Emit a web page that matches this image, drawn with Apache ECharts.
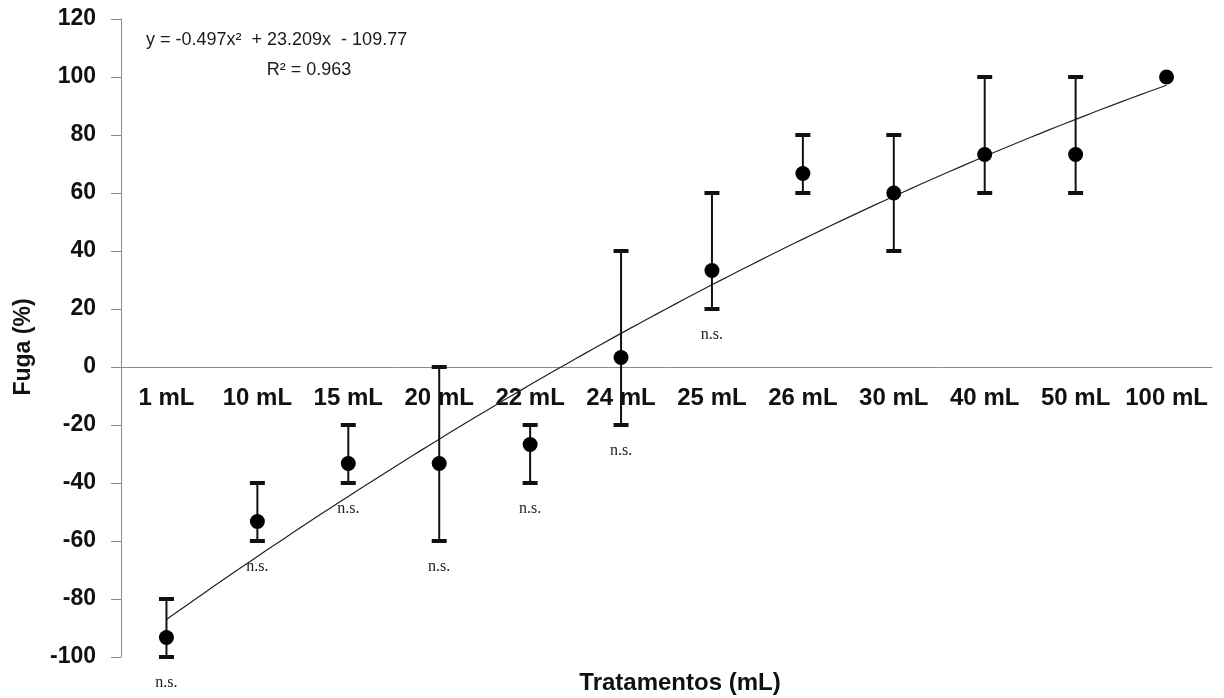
<!DOCTYPE html>
<html>
<head>
<meta charset="utf-8">
<title>Fuga (%) por tratamento</title>
<script src="https://cdn.jsdelivr.net/npm/echarts@6/dist/echarts.min.js"></script>
<style>
  html, body { margin: 0; padding: 0; background: #ffffff; }
  #chart { width: 1224px; height: 698px; }
</style>
</head>
<body>
<div id="chart"></div>
<script>
// Treatments (mL) and escape response (%)
const categories = ['1 mL', '10 mL', '15 mL', '20 mL', '22 mL', '24 mL', '25 mL', '26 mL', '30 mL', '40 mL', '50 mL', '100 mL'];
const means = [-93.3, -53.3, -33.3, -33.3, -26.7, 3.3, 33.3, 66.7, 60, 73.3, 73.3, 100];
const lowerBound = [-100, -60, -40, -60, -40, -20, 20, 60, 40, 60, 60, 100];
const upperBound = [-80, -40, -20, 0, -20, 40, 60, 80, 80, 100, 100, 100];
const notSignificant = [true, true, true, true, true, true, true, false, false, false, false, false];

// Quadratic trend: y = a*x^2 + b*x + c, x = treatment position (1..12)
const trendCoef = { a: -0.497, b: 23.209, c: -109.77 };
const r2 = 0.963;

const yMin = -100, yMax = 120, yStep = 20;

// treatments sit at positions 1..12 on a value x axis
const positions = categories.map((c, i) => i + 1);

const trendPoints = [];
for (let k = 0; k <= 110; k++) {
  const x = 1 + k * 0.1;
  trendPoints.push([x, trendCoef.a * x * x + trendCoef.b * x + trendCoef.c]);
}

const errorData = positions.map((p, i) => [p, lowerBound[i], upperBound[i], notSignificant[i] ? 1 : 0]);
const pointData = positions.map((p, i) => [p, means[i]]);

const chart = echarts.init(document.getElementById('chart'), null, { renderer: 'canvas' });

const axisGrey = '#8a8a8a';
const sans = '"Liberation Sans", Arial, sans-serif';

// plot box
const gridTop = 19, gridBottom = 41;
const plotHeight = 698 - gridTop - gridBottom;
// lift the category axis (line + labels) from the bottom edge up to y = 0
const zeroLift = plotHeight * (0 - yMin) / (yMax - yMin);

chart.setOption({
  animation: false,
  backgroundColor: '#ffffff',
  grid: { left: 121, right: 12, top: gridTop, bottom: gridBottom, containLabel: false },
  xAxis: {
    type: 'value',
    min: 0.5,
    max: 12.5,
    offset: -zeroLift,
    axisLine: { onZero: false, lineStyle: { color: axisGrey, width: 1 } },
    axisTick: { show: false },
    axisLabel: {
      customValues: positions,
      formatter: function (v) { return categories[Math.round(v) - 1] || ''; },
      color: '#111', fontFamily: sans, fontWeight: 'bold', fontSize: 24,
      margin: 19,
      showMinLabel: true, showMaxLabel: true
    },
    splitLine: { show: false },
    z: 1
  },
  yAxis: {
    type: 'value',
    min: yMin,
    max: yMax,
    interval: yStep,
    axisLine: { show: true, onZero: false, lineStyle: { color: axisGrey, width: 1 } },
    axisTick: { show: true, inside: false, length: 10, lineStyle: { color: axisGrey } },
    axisLabel: { color: '#111', fontFamily: sans, fontWeight: 'bold', fontSize: 23, margin: 25 },
    splitLine: { show: false }
  },
  graphic: [
    {
      type: 'text',
      left: 146, top: 31,
      style: {
        text: 'y = ' + trendCoef.a + 'x\u00B2  + ' + trendCoef.b + 'x  - ' + Math.abs(trendCoef.c),
        font: '18px ' + sans, fill: '#1a1a1a'
      }
    },
    {
      type: 'text',
      x: 309, y: 70,
      style: {
        text: 'R\u00B2 = ' + r2,
        font: '18px ' + sans, fill: '#1a1a1a',
        align: 'center', verticalAlign: 'middle'
      }
    },
    {
      type: 'text',
      x: 24, y: 347, rotation: Math.PI / 2,
      style: {
        text: 'Fuga (%)',
        font: 'bold 23px ' + sans, fill: '#111',
        align: 'center', verticalAlign: 'middle'
      }
    },
    {
      type: 'text',
      x: 680, y: 683,
      style: {
        text: 'Tratamentos (mL)',
        font: 'bold 24px ' + sans, fill: '#111',
        align: 'center', verticalAlign: 'middle'
      }
    }
  ],
  series: [
    {
      name: 'Tendência',
      type: 'line',
      data: trendPoints,
      showSymbol: false,
      smooth: false,
      lineStyle: { color: '#222', width: 1.2 },
      z: 2
    },
    {
      name: 'Erro',
      type: 'custom',
      data: errorData,
      z: 3,
      renderItem: function (params, api) {
        const pos = api.value(0);
        const lo = api.value(1);
        const hi = api.value(2);
        const ns = api.value(3);
        const pLo = api.coord([pos, lo]);
        const pHi = api.coord([pos, hi]);
        const capW = 15, capH = 4;
        const children = [];
        if (lo !== hi) {
          children.push({
            type: 'line',
            shape: { x1: pLo[0], y1: pLo[1], x2: pHi[0], y2: pHi[1] },
            style: { stroke: '#111', lineWidth: 2 }
          });
          children.push({
            type: 'rect',
            shape: { x: pHi[0] - capW / 2, y: pHi[1] - capH / 2, width: capW, height: capH },
            style: { fill: '#111' }
          });
          children.push({
            type: 'rect',
            shape: { x: pLo[0] - capW / 2, y: pLo[1] - capH / 2, width: capW, height: capH },
            style: { fill: '#111' }
          });
        }
        if (ns) {
          children.push({
            type: 'text',
            x: pLo[0], y: pLo[1] + 26,
            style: {
              text: 'n.s.', font: '16px "Liberation Serif", "Times New Roman", serif',
              fill: '#222', align: 'center', verticalAlign: 'middle'
            }
          });
        }
        return { type: 'group', children: children };
      }
    },
    {
      name: 'Fuga',
      type: 'scatter',
      data: pointData,
      symbol: 'circle',
      symbolSize: 15,
      itemStyle: { color: '#000', opacity: 1 },
      z: 4
    }
  ]
});
</script>
</body>
</html>
